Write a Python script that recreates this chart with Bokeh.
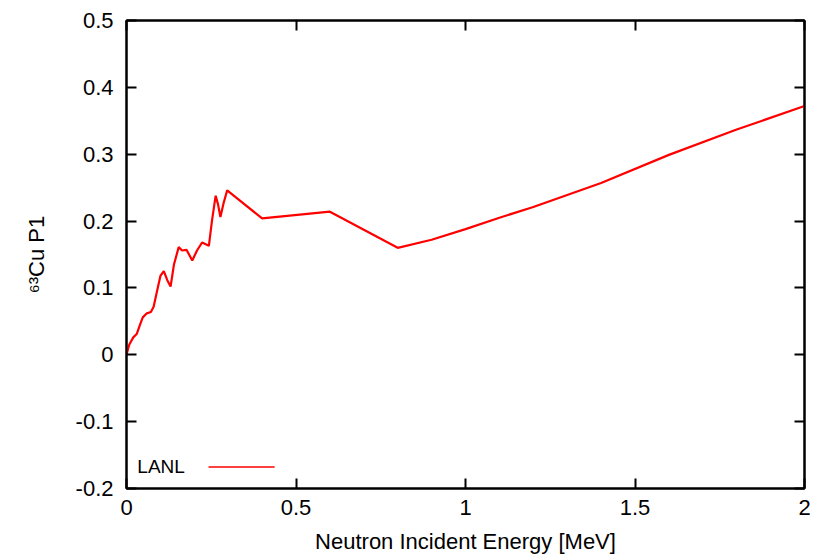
from bokeh.plotting import figure
from bokeh.models import Range1d, LinearAxis, FixedTicker, Label, Arrow
from bokeh.embed import file_html
from bokeh.resources import INLINE

# ---- data ----
energy = [0, 0.008, 0.02, 0.03, 0.04, 0.048, 0.06, 0.072, 0.08, 0.09, 0.1, 0.11,
          0.12, 0.13, 0.14, 0.154, 0.164, 0.177, 0.194, 0.208, 0.223, 0.243, 0.252,
          0.263, 0.27, 0.277, 0.287, 0.297, 0.4, 0.6, 0.8, 0.9, 1.0, 1.1, 1.2, 1.4,
          1.6, 1.8, 2.0]
p1_lanl = [0, 0.015, 0.026, 0.031, 0.045, 0.056, 0.062, 0.064, 0.072, 0.095, 0.118, 0.125,
           0.112, 0.102, 0.135, 0.161, 0.156, 0.157, 0.141, 0.156, 0.168, 0.163, 0.2,
           0.238, 0.225, 0.206, 0.228, 0.246, 0.204, 0.214, 0.160, 0.172, 0.188, 0.205,
           0.221, 0.257, 0.299, 0.337, 0.372]
series_name = "LANL"

x_ticks = [0, 0.5, 1, 1.5, 2]
x_tick_labels = ["0", "0.5", "1", "1.5", "2"]
y_ticks = [-0.2, -0.1, 0, 0.1, 0.2, 0.3, 0.4, 0.5]
y_tick_labels = ["-0.2", "-0.1", "0", "0.1", "0.2", "0.3", "0.4", "0.5"]

x_title = "Neutron Incident Energy [MeV]"
y_title = "\u2076\u00b3Cu P1"

FONT = "Liberation Sans"
FS = "22px"

p = figure(width=813, height=556, output_backend="svg", toolbar_location=None,
           x_range=Range1d(0, 2), y_range=Range1d(-0.2, 0.5),
           min_border_left=126, min_border_right=9, min_border_top=20,
           min_border_bottom=68)
p.grid.visible = False
p.outline_line_color = "black"
p.outline_line_width = 2
p.background_fill_color = "white"
p.border_fill_color = "white"

p.line(energy, p1_lanl, color="#ff0000", line_width=2.2)


def style_axis(ax, ticks, labels, show_labels=True):
    ax.ticker = FixedTicker(ticks=ticks)
    ax.major_tick_in = 10
    ax.major_tick_out = 0
    ax.major_tick_line_width = 2
    ax.major_tick_line_color = "black"
    ax.minor_tick_line_color = None
    ax.axis_line_width = 2
    ax.axis_line_color = "black"
    ax.major_label_text_font = FONT
    if show_labels:
        ax.major_label_overrides = {t: l for t, l in zip(ticks, labels)}
        ax.major_label_text_font_size = FS
        ax.major_label_text_color = "black"
    else:
        ax.major_label_text_font_size = "1px"
        ax.major_label_text_color = None
        ax.major_label_standoff = 0


xa = p.xaxis[0]
ya = p.yaxis[0]
style_axis(xa, x_ticks, x_tick_labels)
style_axis(ya, y_ticks, y_tick_labels)
xa.major_label_standoff = 11
ya.major_label_standoff = 13

xa.axis_label = x_title
xa.axis_label_text_font = FONT
xa.axis_label_text_font_size = FS
xa.axis_label_text_font_style = "normal"
xa.axis_label_text_color = "black"
xa.axis_label_standoff = 11

ya.axis_label = y_title
ya.axis_label_text_font = FONT
ya.axis_label_text_font_size = FS
ya.axis_label_text_font_style = "normal"
ya.axis_label_text_color = "black"
ya.axis_label_standoff = 24

top = LinearAxis()
right = LinearAxis()
style_axis(top, x_ticks, x_tick_labels, show_labels=False)
style_axis(right, y_ticks, y_tick_labels, show_labels=False)
p.add_layout(top, "above")
p.add_layout(right, "right")

# legend (gnuplot style: text, then sample line)
leg_y = -0.1677
p.add_layout(Label(x=0.032, y=leg_y, text=series_name, text_font=FONT,
                   text_font_size="19px", text_baseline="middle", text_align="left",
                   text_color="black"))
p.add_layout(Arrow(x_start=0.242, y_start=leg_y, x_end=0.437, y_end=leg_y,
                   end=None, line_color="#ff0000", line_width=1.5))

open("out.html", "w").write(file_html(p, INLINE))
